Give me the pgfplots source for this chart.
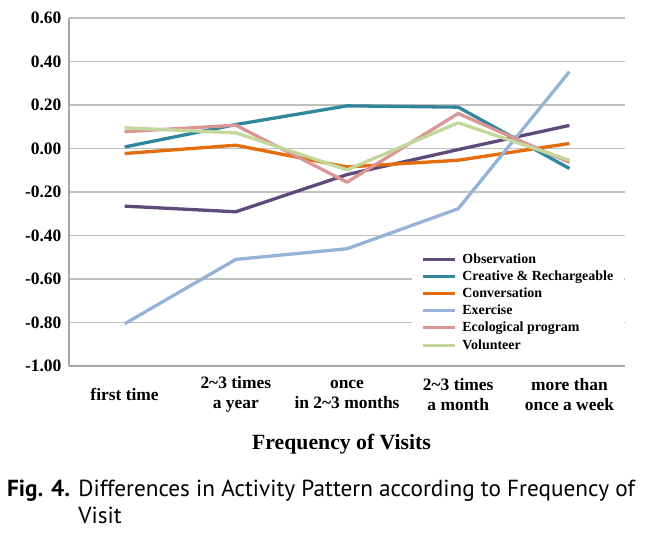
\documentclass[border=0pt]{standalone}
\usepackage{pgfplots}
\pgfplotsset{compat=1.18}
\usepackage{fontspec}
\setmainfont{Liberation Serif}
\newfontfamily\capfont{PT Sans}
\definecolor{cObs}{HTML}{604A7B}
\definecolor{cCre}{HTML}{31859C}
\definecolor{cCon}{HTML}{E46C0A}
\definecolor{cExe}{HTML}{95B3D7}
\definecolor{cEco}{HTML}{D99694}
\definecolor{cVol}{HTML}{C3D69B}
\begin{document}
\begin{tikzpicture}[x=1bp,y=1bp]
\path[use as bounding box] (0,0) rectangle (659,533);
\begin{axis}[
  at={(69bp,167bp)}, anchor=south west,
  scale only axis, width=556bp, height=348bp,
  xmin=-0.5, xmax=4.5, ymin=-1, ymax=0.6,
  xtick={0,1,2,3,4},
  xticklabels={first time, {2\textasciitilde3 times\\a year}, {once\\in 2\textasciitilde3 months}, {2\textasciitilde3 times\\a month}, {more than\\once a week}},
  ytick={-1,-0.8,-0.6,-0.4,-0.2,0,0.2,0.4,0.6},
  yticklabels={-1.00,-0.80,-0.60,-0.40,-0.20,0.00,0.20,0.40,0.60},
  tick style={draw=none},
  axis x line=bottom, axis y line=left,
  axis line style={draw=black!35, line width=1.2bp, -},
  ymajorgrids, major grid style={draw=black!25, line width=1.2bp},
  yticklabel style={font=\bfseries\fontsize{17.5}{20}\selectfont, anchor=east, xshift=-2bp},
  xticklabel style={font=\bfseries\fontsize{17.5}{20}\selectfont, align=center, anchor=center, yshift=-26bp},
  every axis plot/.append style={line width=3.3bp, line join=round},
  legend style={at={(axis cs:2.585,-0.455)}, anchor=north west, draw=none, fill=white,
    font=\bfseries\fontsize{14}{15}\selectfont, row sep=2bp, inner xsep=9bp, inner ysep=4bp},
  legend cell align=left,
  legend image code/.code={\draw[#1, line width=3bp] (0bp,0bp) -- (32bp,0bp); \path (36bp,0bp);},
]
\addplot[cObs] coordinates {(0,-0.265) (1,-0.291) (2,-0.120) (3,-0.005) (4,0.106)};
\addlegendentry{Observation}
\addplot[cCre] coordinates {(0,0.007) (1,0.110) (2,0.196) (3,0.190) (4,-0.092)};
\addlegendentry{Creative \& Rechargeable}
\addplot[cCon] coordinates {(0,-0.023) (1,0.015) (2,-0.085) (3,-0.054) (4,0.023)};
\addlegendentry{Conversation}
\addplot[cExe] coordinates {(0,-0.806) (1,-0.510) (2,-0.461) (3,-0.277) (4,0.353)};
\addlegendentry{Exercise}
\addplot[cEco] coordinates {(0,0.077) (1,0.107) (2,-0.155) (3,0.161) (4,-0.064)};
\addlegendentry{Ecological program}
\addplot[cVol] coordinates {(0,0.095) (1,0.072) (2,-0.098) (3,0.118) (4,-0.054)};
\addlegendentry{Volunteer}
\end{axis}
\node[anchor=base, font=\bfseries\fontsize{21.8}{24}\selectfont, inner sep=0] at (341.5,83) {Frequency of Visits};
\node[anchor=base west, inner sep=0, font=\capfont\fontsize{23.3}{27}\selectfont] at (7,36)
  {\begin{tabular}[t]{@{}l@{ }l@{}}\textbf{Fig. 4.} & Differences in Activity Pattern according to Frequency of\\ & Visit\end{tabular}};
\end{tikzpicture}
\end{document}
